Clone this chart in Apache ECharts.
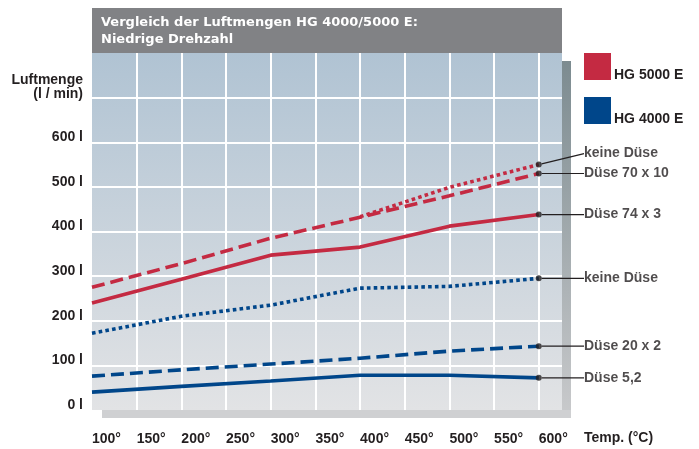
<!DOCTYPE html>
<html>
<head>
<meta charset="utf-8">
<script src="https://cdn.jsdelivr.net/npm/echarts@6/dist/echarts.min.js"></script>
<style>
  html, body { margin: 0; padding: 0; background: #fff; }
  #chart { width: 699px; height: 449px; }
</style>
</head>
<body>
<div id="chart"></div>
<script>
// temperatures (°C)
var temps = [100, 200, 300, 400, 500, 600];

// HG 5000 E (red)
var red_keine = [null, null, null, 433, 499, 550];
var red_70x10 = [275, 328, 385, 432, 480, 530];
var red_74x3 = [240, 293, 347, 365, 412, 438];

// HG 4000 E (blue)
var blue_keine = [172, 210, 235, 273, 277, 295];
var blue_20x2 = [76, 90, 103, 116, 132, 143];
var blue_52 = [40, 53, 65, 78, 78, 72];

var endNames = ["keine Düse", "Düse 70 x 10", "Düse 74 x 3", "keine Düse", "Düse 20 x 2", "Düse 5,2"];
var endLabelShift = [-11, 0, 0, 0, 0, 0];

var yTicks = [0, 100, 200, 300, 400, 500, 600];
var legendNames = ["HG 5000 E", "HG 4000 E"];

var RED = "#c42a42";
var BLUE = "#00468a";
var TXT = "#231f20";
var FONT = "'Liberation Sans', Arial, sans-serif";

function pairs(vals) {
  var out = [];
  for (var i = 0; i < temps.length; i++) {
    out.push([temps[i], vals[i]]);
  }
  return out;
}

var allSeries = [red_keine, red_70x10, red_74x3, blue_keine, blue_20x2, blue_52];
var endPoints = [];
for (var i = 0; i < allSeries.length; i++) {
  var s = allSeries[i];
  endPoints.push({ name: endNames[i], value: [temps[temps.length - 1], s[s.length - 1]] });
}

function lineSeries(name, vals, color, type) {
  return {
    name: name,
    type: "line",
    data: pairs(vals),
    showSymbol: false,
    symbol: "none",
    connectNulls: false,
    silent: true,
    lineStyle: { color: color, width: 3.6, type: type, cap: "butt" },
    itemStyle: { color: color }
  };
}

var chart = echarts.init(document.getElementById("chart"));

chart.setOption({
  animation: false,
  textStyle: { fontFamily: FONT },
  title: {
    text: "Vergleich der Luftmengen HG 4000/5000 E:\nNiedrige Drehzahl",
    left: 92,
    top: 8,
    padding: [6, 9, 5, 9],
    textStyle: {
      color: "#fff",
      fontSize: 13,
      fontWeight: "bold",
      lineHeight: 17,
      fontFamily: "'DejaVu Sans', sans-serif"
    }
  },
  graphic: [
    // title bar
    { type: "rect", z: -10, shape: { x: 92, y: 8, width: 470, height: 45 }, style: { fill: "#818285" } },
    // right shadow strip
    {
      type: "rect", z: -10,
      shape: { x: 562, y: 61, width: 9, height: 357 },
      style: {
        fill: new echarts.graphic.LinearGradient(0, 0, 0, 1, [
          { offset: 0, color: "#7c8b90" },
          { offset: 1, color: "#c9cacc" }
        ])
      }
    },
    // bottom shadow strip
    { type: "rect", z: -10, shape: { x: 102, y: 410, width: 469, height: 8 }, style: { fill: "#cfd0d2" } },
    // legend
    { type: "rect", shape: { x: 584, y: 53, width: 27, height: 27 }, style: { fill: RED } },
    { type: "text", left: 614, top: 68, style: { text: legendNames[0], fill: TXT, font: "bold 14px " + FONT } },
    { type: "rect", shape: { x: 584, y: 97, width: 27, height: 27 }, style: { fill: BLUE } },
    { type: "text", left: 614, top: 112, style: { text: legendNames[1], fill: TXT, font: "bold 14px " + FONT } },
    // y axis title
    {
      type: "text", x: 83, y: 73,
      style: {
        text: "Luftmenge\n(l / min)",
        align: "right",
        verticalAlign: "top",
        fill: TXT,
        font: "bold 14px " + FONT,
        lineHeight: 14
      }
    },
    // x axis title
    {
      type: "text", left: 584, top: 431,
      style: { text: "Temp. (°C)", fill: TXT, font: "bold 14px " + FONT }
    }
  ],
  grid: {
    left: 92,
    right: 699 - 562,
    top: 53,
    bottom: 449 - 410,
    show: true,
    borderWidth: 0,
    backgroundColor: new echarts.graphic.LinearGradient(0, 0, 0, 1, [
      { offset: 0, color: "#b0c3d3" },
      { offset: 1, color: "#e2e3e5" }
    ])
  },
  xAxis: {
    type: "value",
    min: 100,
    max: 626,
    interval: 50,
    axisLine: { show: false },
    axisTick: { show: false },
    axisLabel: {
      showMaxLabel: false,
      margin: 22,
      align: "left",
      color: TXT,
      fontSize: 14,
      fontWeight: "bold",
      fontFamily: FONT,
      formatter: "{value}°"
    },
    splitLine: {
      show: true,
      lineStyle: {
        width: 2,
        color: ["rgba(0,0,0,0)", "#fff", "#fff", "#fff", "#fff", "#fff", "#fff", "#fff", "#fff", "#fff", "#fff", "rgba(0,0,0,0)"]
      }
    }
  },
  yAxis: {
    type: "value",
    min: 0,
    max: 800,
    interval: 100,
    axisLine: { show: false },
    axisTick: { show: false },
    axisLabel: {
      margin: 9,
      verticalAlign: "bottom",
      lineHeight: 10,
      color: TXT,
      fontSize: 14,
      fontWeight: "bold",
      fontFamily: FONT,
      formatter: function (v) {
        return yTicks.indexOf(v) >= 0 ? v + " l" : "";
      }
    },
    splitLine: {
      show: true,
      lineStyle: {
        width: 2,
        color: ["rgba(0,0,0,0)", "#fff", "#fff", "#fff", "#fff", "#fff", "#fff", "#fff", "rgba(0,0,0,0)"]
      }
    }
  },
  series: [
    lineSeries("HG 4000 E", blue_52, BLUE, "solid"),
    lineSeries("HG 4000 E", blue_20x2, BLUE, [13, 6]),
    lineSeries("HG 4000 E", blue_keine, BLUE, [3.6, 3.2]),
    lineSeries("HG 5000 E", red_74x3, RED, "solid"),
    lineSeries("HG 5000 E", red_70x10, RED, [13, 6]),
    lineSeries("HG 5000 E", red_keine, RED, [3.6, 3.2]),
    {
      name: "ends",
      type: "scatter",
      data: endPoints,
      symbolSize: 6,
      z: 5,
      silent: true,
      itemStyle: { color: "#231f20" },
      label: {
        show: true,
        position: "right",
        formatter: "{b}",
        color: TXT,
        fontSize: 14,
        fontWeight: "bold",
        fontFamily: FONT,
        padding: [0, 0, 0, 5]
      },
      labelLine: {
        show: true,
        lineStyle: { color: "#231f20", width: 1.2 }
      },
      labelLayout: function (params) {
        var cy = params.rect.y + params.rect.height / 2;
        return {
          x: 579,
          y: cy + endLabelShift[params.dataIndex],
          align: "left",
          verticalAlign: "middle"
        };
      }
    }
  ]
});
</script>
</body>
</html>
